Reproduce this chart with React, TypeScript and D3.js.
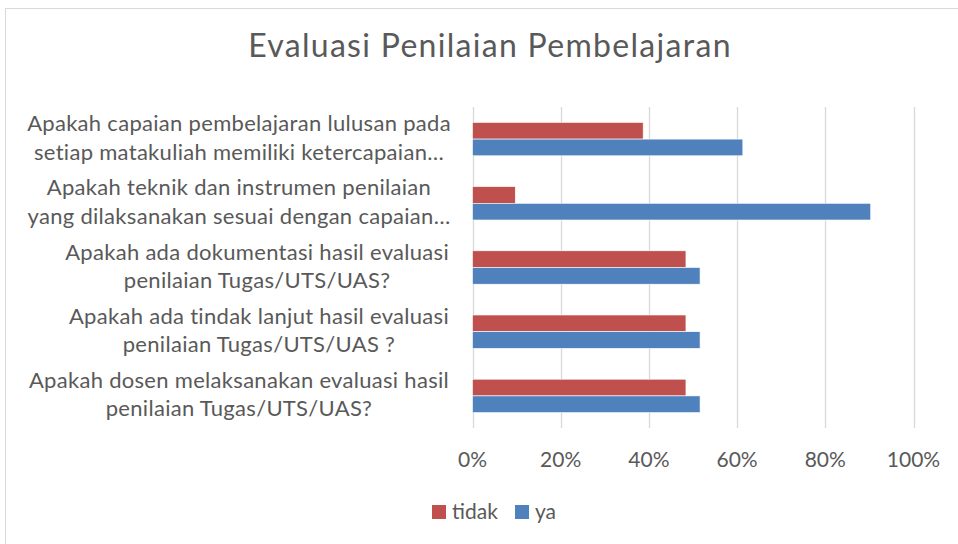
import React, { useRef, useEffect } from 'react';
import * as d3 from 'd3';

// question labels, top to bottom, already wrapped the way the chart shows them
const categories: string[][] = [
  ['Apakah capaian pembelajaran lulusan pada', 'setiap matakuliah memiliki ketercapaian…'],
  ['Apakah teknik dan instrumen penilaian', 'yang dilaksanakan sesuai dengan capaian…'],
  ['Apakah ada dokumentasi hasil evaluasi', 'penilaian Tugas/UTS/UAS?'],
  ['Apakah ada tindak lanjut hasil evaluasi', 'penilaian Tugas/UTS/UAS ?'],
  ['Apakah dosen melaksanakan evaluasi hasil', 'penilaian Tugas/UTS/UAS?'],
];

const seriesNames = ['tidak', 'ya'];
const tidak = [0.387, 0.097, 0.484, 0.484, 0.484];
const ya = [0.613, 0.903, 0.516, 0.516, 0.516];
const xTicks = [0, 0.2, 0.4, 0.6, 0.8, 1];

const colors: Record<string, string> = { tidak: '#C0504D', ya: '#4F81BD' };

const width = 958;
const height = 544;
const FONT = 'Lato, "Open Sans", sans-serif';
const TEXT = '#595959';

const App: React.FC = () => {
  const svgRef = useRef<SVGSVGElement>(null);

  useEffect(() => {
    if (!svgRef.current) return;
    const svg = d3.select(svgRef.current);
    svg.selectAll('*').remove();

    // chart frame
    svg.append('rect')
      .attr('x', 5.5).attr('y', 8.5)
      .attr('width', width + 20).attr('height', height + 20)
      .attr('fill', '#fff')
      .attr('stroke', '#D9D9D9')
      .attr('stroke-width', 1);

    const x = d3.scaleLinear().domain([0, 1]).range([472.5, 913.5]);
    const y = d3.scaleBand<number>()
      .domain(d3.range(categories.length))
      .range([107, 428])
      .paddingInner(0.48)
      .paddingOuter(0.24);
    const ySub = d3.scaleBand<string>()
      .domain(seriesNames)
      .range([0, y.bandwidth()]);

    // gridlines
    svg.append('g')
      .selectAll('line')
      .data(xTicks)
      .join('line')
      .attr('x1', d => Math.round(x(d)) + 0.5)
      .attr('x2', d => Math.round(x(d)) + 0.5)
      .attr('y1', 107)
      .attr('y2', 428)
      .attr('stroke', '#D9D9D9')
      .attr('stroke-width', 1.3);

    // tick labels
    svg.append('g')
      .selectAll('text')
      .data(xTicks)
      .join('text')
      .attr('x', d => x(d))
      .attr('y', 467)
      .attr('text-anchor', 'middle')
      .style('font-family', FONT)
      .style('font-size', '21px')
      .style('fill', TEXT)
      .text(d => d3.format('.0%')(d));

    // bars
    const values: Record<string, number[]> = { tidak, ya };
    seriesNames.forEach(name => {
      svg.append('g')
        .selectAll('rect')
        .data(values[name])
        .join('rect')
        .attr('x', x(0))
        .attr('y', (_, i) => (y(i) || 0) + (ySub(name) || 0))
        .attr('width', d => x(d) - x(0))
        .attr('height', ySub.bandwidth())
        .attr('fill', colors[name])
        .attr('stroke', '#fff')
        .attr('stroke-width', 0.6);
    });

    // category labels: block right-aligned to the axis, lines centred within it
    const labels = svg.append('g')
      .style('font-family', FONT)
      .style('font-size', '22px')
      .style('letter-spacing', '0.3px')
      .style('fill', TEXT);
    categories.forEach((lines, i) => {
      const cy = (y(i) || 0) + y.bandwidth() / 2;
      const g = labels.append('g');
      const texts = lines.map((line, j) =>
        g.append('text')
          .attr('y', cy - 8 + j * 28.5)
          .attr('text-anchor', 'middle')
          .text(line)
      );
      const widths = texts.map(t => (t.node() as SVGTextElement).getComputedTextLength());
      const blockW = Math.min(d3.max(widths) || 0, 420);
      texts.forEach(t => t.attr('x', 449 - blockW / 2));
    });

    // title
    svg.append('text')
      .attr('x', 490)
      .attr('y', 57)
      .attr('text-anchor', 'middle')
      .style('font-family', FONT)
      .style('font-size', '32px')
      .style('letter-spacing', '1.3px')
      .style('fill', TEXT)
      .text('Evaluasi Penilaian Pembelajaran');

    // legend
    const legend = svg.append('g').style('font-family', FONT).style('font-size', '21px');
    const legendX = [432, 515];
    seriesNames.forEach((name, i) => {
      legend.append('rect')
        .attr('x', legendX[i]).attr('y', 505)
        .attr('width', 14).attr('height', 14)
        .attr('fill', colors[name]);
      legend.append('text')
        .attr('x', legendX[i] + 20)
        .attr('y', 518.5)
        .style('fill', TEXT)
        .text(name);
    });
  }, []);

  return (
    <svg
      ref={svgRef}
      width={width}
      height={height}
      style={{ position: 'absolute', left: 0, top: 0, background: '#fff' }}
    />
  );
};

export default App;
